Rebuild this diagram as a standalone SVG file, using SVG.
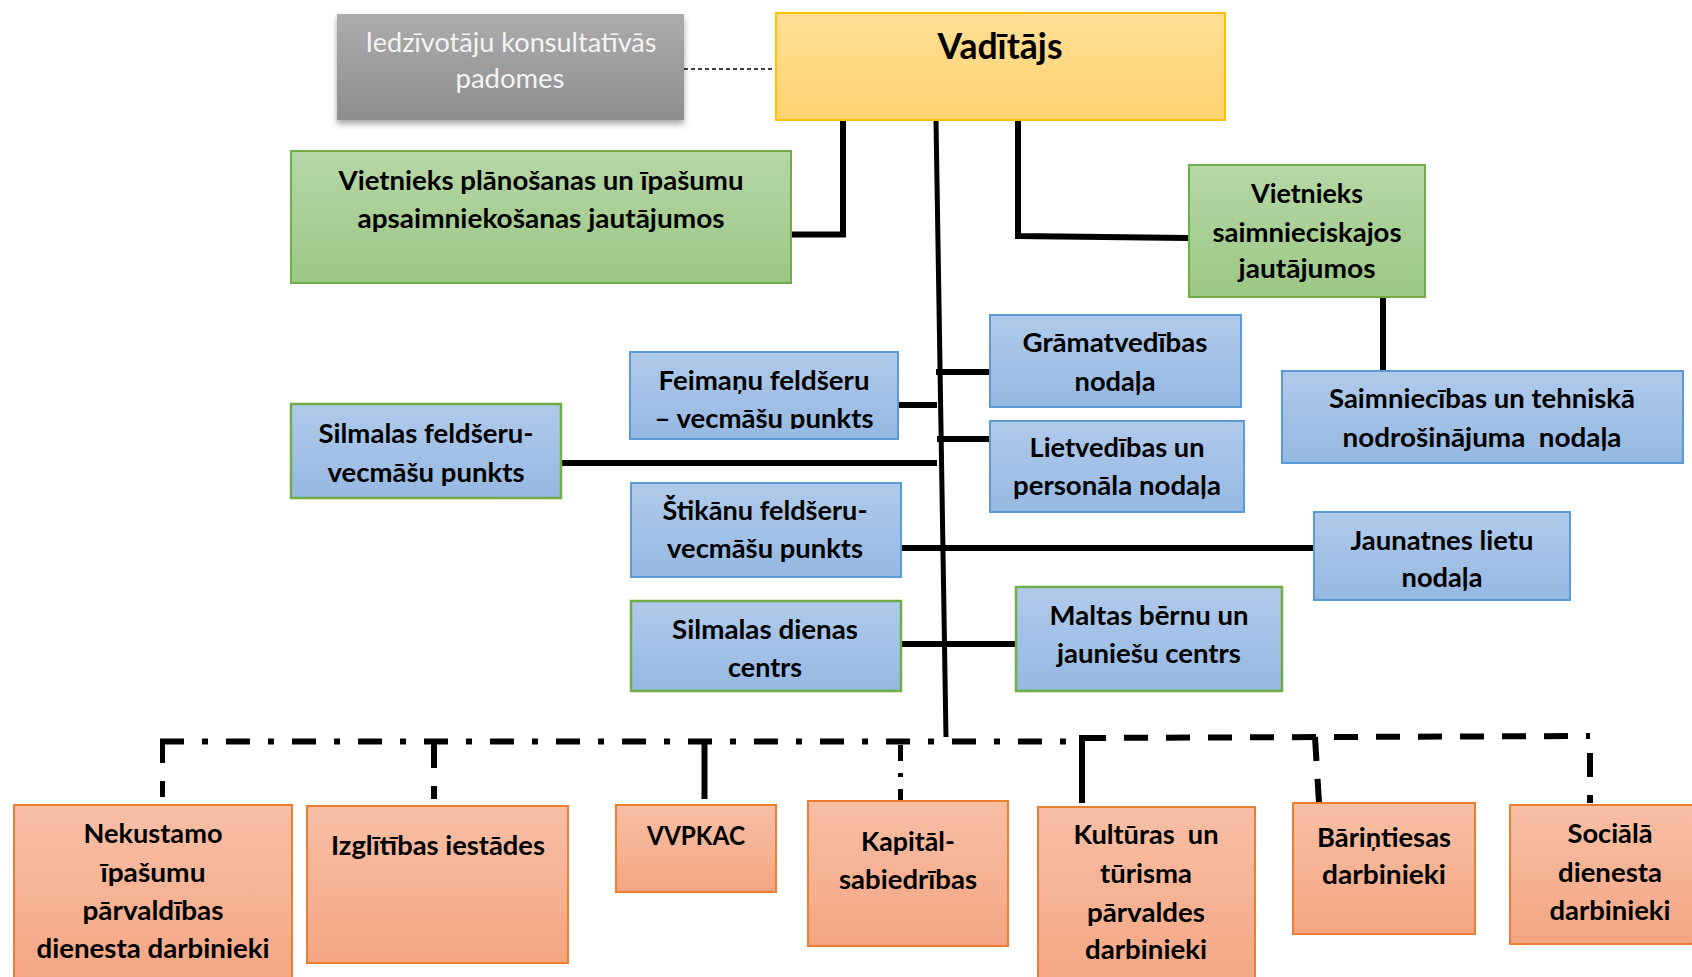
<svg xmlns="http://www.w3.org/2000/svg" width="1692" height="977" viewBox="0 0 1692 977">
<style>
.t{font-family:Lato,"Open Sans","Liberation Sans",sans-serif;font-weight:700;font-size:27px;fill:#000;text-anchor:middle}
.tg{font-family:Lato,"Open Sans","Liberation Sans",sans-serif;font-weight:400;font-size:26px;fill:#F4F4F4;text-anchor:middle}
.pre{white-space:pre}
.green{fill:url(#gGreen);stroke:#70AD47;stroke-width:2}
.blue{fill:url(#gBlue);stroke:#5B9BD5;stroke-width:2}
.bluegreen{fill:url(#gBlue);stroke:#70AD47;stroke-width:2.5}
.orange{fill:url(#gOrange);stroke:#ED7D31;stroke-width:2}
.ln{fill:none;stroke:#000;stroke-width:6;stroke-linecap:butt;stroke-linejoin:miter}
.thin{stroke-width:5}
.dash{stroke-dasharray:24 18}
.dashdot{stroke-dasharray:24 18 6 18}
</style>
<defs>
<linearGradient id="gGreen" x1="0" y1="0" x2="0" y2="1"><stop offset="0" stop-color="#B6D7A7"/><stop offset="1" stop-color="#9BC784"/></linearGradient>
<linearGradient id="gBlue" x1="0" y1="0" x2="0" y2="1"><stop offset="0" stop-color="#B0CAEA"/><stop offset="1" stop-color="#95B8E2"/></linearGradient>
<linearGradient id="gOrange" x1="0" y1="0" x2="0" y2="1"><stop offset="0" stop-color="#F7BFA5"/><stop offset="1" stop-color="#F4A582"/></linearGradient>
<linearGradient id="gYellow" x1="0" y1="0" x2="0" y2="1"><stop offset="0" stop-color="#FFDE96"/><stop offset="1" stop-color="#FFD36F"/></linearGradient>
<linearGradient id="gGray" x1="0" y1="0" x2="0" y2="1"><stop offset="0" stop-color="#ACACAC"/><stop offset="1" stop-color="#8E8E8E"/></linearGradient>
<filter id="shadow" x="-10%" y="-20%" width="120%" height="150%"><feDropShadow dx="0" dy="4" stdDeviation="3" flood-color="#000" flood-opacity="0.35"/></filter>
<clipPath id="clipFeim"><rect x="630" y="352" width="268" height="77"/></clipPath>
</defs>

<g id="connectors">
<line x1="684" y1="69" x2="776" y2="69" stroke="#000" stroke-width="1.5" stroke-dasharray="4 3"/>
<polyline class="ln" points="843,120 843,234.5 791,234.5"/>
<line class="ln thin" x1="936" y1="120" x2="946" y2="737"/>
<polyline class="ln" points="1018,120 1018,236 1189,238"/>
<line class="ln" x1="1383" y1="297" x2="1383" y2="371"/>
<line class="ln" x1="936" y1="372" x2="990" y2="372"/>
<line class="ln" x1="898" y1="405" x2="937" y2="405"/>
<line class="ln" x1="937" y1="439" x2="990" y2="439"/>
<line class="ln" x1="561" y1="463" x2="937" y2="463"/>
<line class="ln" x1="901" y1="548" x2="1314" y2="548"/>
<line class="ln" x1="901" y1="644" x2="1016" y2="644"/>
<line class="ln dashdot" x1="160" y1="741.5" x2="1067" y2="741.5"/>
<line class="ln thin dash" x1="162.5" y1="739" x2="162.5" y2="797"/>
<line class="ln dash" x1="434" y1="744" x2="434" y2="799"/>
<line class="ln" x1="704.5" y1="741" x2="704.5" y2="799"/>
<line class="ln thin" x1="900.5" y1="745" x2="900.5" y2="800" stroke-dasharray="16 12 4 12"/>
<polyline class="ln" points="1106,738 1082,738 1082,803"/>
<line class="ln dash" x1="1082" y1="738" x2="1590" y2="736"/>
<line class="ln dash" x1="1315" y1="737" x2="1319" y2="803"/>
<line class="ln dash" x1="1590" y1="736" x2="1590" y2="803" stroke-dashoffset="25"/>
</g>

<g id="n-padomes">
<rect x="337" y="14" width="347" height="106" fill="url(#gGray)" filter="url(#shadow)"/>
<text class="tg" x="511" y="52" textLength="291" lengthAdjust="spacingAndGlyphs">Iedzīvotāju konsultatīvās</text>
<text class="tg" x="510" y="88" textLength="109" lengthAdjust="spacingAndGlyphs">padomes</text>
</g>

<g id="n-vaditajs">
<rect x="776" y="13" width="449" height="107" fill="url(#gYellow)" stroke="#FFC000" stroke-width="2"/>
<text class="t" x="1000" y="59" style="font-size:36px" textLength="125" lengthAdjust="spacingAndGlyphs">Vadītājs</text>
</g>

<g id="n-vietnieks-planosanas">
<rect class="green" x="291" y="151" width="500" height="132"/>
<text class="t" x="541" y="190" textLength="405" lengthAdjust="spacingAndGlyphs">Vietnieks plānošanas un īpašumu</text>
<text class="t" x="541" y="228" textLength="367" lengthAdjust="spacingAndGlyphs">apsaimniekošanas jautājumos</text>
</g>

<g id="n-vietnieks-saimn">
<rect class="green" x="1189" y="165" width="236" height="132"/>
<text class="t" x="1307" y="203" textLength="112" lengthAdjust="spacingAndGlyphs">Vietnieks</text>
<text class="t" x="1307" y="242" textLength="189" lengthAdjust="spacingAndGlyphs">saimnieciskajos</text>
<text class="t" x="1307" y="278" textLength="137" lengthAdjust="spacingAndGlyphs">jautājumos</text>
</g>

<g id="n-gramatvedibas">
<rect class="blue" x="990" y="315" width="251" height="92"/>
<text class="t" x="1115" y="352" textLength="185" lengthAdjust="spacingAndGlyphs">Grāmatvedības</text>
<text class="t" x="1115" y="391" textLength="81" lengthAdjust="spacingAndGlyphs">nodaļa</text>
</g>

<g id="n-saimniecibas">
<rect class="blue" x="1282" y="371" width="401" height="92"/>
<text class="t" x="1482" y="408" textLength="306" lengthAdjust="spacingAndGlyphs">Saimniecības un tehniskā</text>
<text class="t pre" x="1482" y="447" textLength="279" lengthAdjust="spacingAndGlyphs">nodrošinājuma  nodaļa</text>
</g>

<g id="n-feimanu">
<rect class="blue" x="630" y="352" width="268" height="87"/>
<text class="t" x="764" y="390" textLength="211" lengthAdjust="spacingAndGlyphs">Feimaņu feldšeru</text>
<text class="t" x="764" y="428" textLength="219" lengthAdjust="spacingAndGlyphs" clip-path="url(#clipFeim)">– vecmāšu punkts</text>
</g>

<g id="n-silmalas-feldseru">
<rect class="bluegreen" x="291" y="404" width="270" height="94"/>
<text class="t" x="426" y="443" textLength="215" lengthAdjust="spacingAndGlyphs">Silmalas feldšeru-</text>
<text class="t" x="426" y="482" textLength="197" lengthAdjust="spacingAndGlyphs">vecmāšu punkts</text>
</g>

<g id="n-lietvedibas">
<rect class="blue" x="990" y="421" width="254" height="91"/>
<text class="t" x="1117" y="457" textLength="175" lengthAdjust="spacingAndGlyphs">Lietvedības un</text>
<text class="t" x="1117" y="495" textLength="208" lengthAdjust="spacingAndGlyphs">personāla nodaļa</text>
</g>

<g id="n-stikanu">
<rect class="blue" x="631" y="483" width="270" height="94"/>
<text class="t" x="765" y="520" textLength="205" lengthAdjust="spacingAndGlyphs">Štikānu feldšeru-</text>
<text class="t" x="765" y="558" textLength="196" lengthAdjust="spacingAndGlyphs">vecmāšu punkts</text>
</g>

<g id="n-jaunatnes">
<rect class="blue" x="1314" y="512" width="256" height="88"/>
<text class="t" x="1442" y="550" textLength="183" lengthAdjust="spacingAndGlyphs">Jaunatnes lietu</text>
<text class="t" x="1442" y="587" textLength="81" lengthAdjust="spacingAndGlyphs">nodaļa</text>
</g>

<g id="n-silmalas-dienas">
<rect class="bluegreen" x="631" y="601" width="270" height="90"/>
<text class="t" x="765" y="639" textLength="186" lengthAdjust="spacingAndGlyphs">Silmalas dienas</text>
<text class="t" x="765" y="677" textLength="74" lengthAdjust="spacingAndGlyphs">centrs</text>
</g>

<g id="n-maltas">
<rect class="bluegreen" x="1016" y="587" width="266" height="104"/>
<text class="t" x="1149" y="625" textLength="199" lengthAdjust="spacingAndGlyphs">Maltas bērnu un</text>
<text class="t" x="1149" y="663" textLength="184" lengthAdjust="spacingAndGlyphs">jauniešu centrs</text>
</g>

<g id="n-nekustamo">
<rect class="orange" x="14" y="805" width="278" height="185"/>
<text class="t" x="153" y="843" textLength="139" lengthAdjust="spacingAndGlyphs">Nekustamo</text>
<text class="t" x="153" y="882" textLength="105" lengthAdjust="spacingAndGlyphs">īpašumu</text>
<text class="t" x="153" y="920" textLength="141" lengthAdjust="spacingAndGlyphs">pārvaldības</text>
<text class="t" x="153" y="958" textLength="233" lengthAdjust="spacingAndGlyphs">dienesta darbinieki</text>
</g>

<g id="n-izglitibas">
<rect class="orange" x="307" y="806" width="261" height="157"/>
<text class="t" x="438" y="855" textLength="214" lengthAdjust="spacingAndGlyphs">Izglītības iestādes</text>
</g>

<g id="n-vvpkac">
<rect class="orange" x="616" y="805" width="160" height="87"/>
<text class="t" x="696" y="845" textLength="98" lengthAdjust="spacingAndGlyphs">VVPKAC</text>
</g>

<g id="n-kapital">
<rect class="orange" x="808" y="801" width="200" height="145"/>
<text class="t" x="908" y="851" textLength="94" lengthAdjust="spacingAndGlyphs">Kapitāl-</text>
<text class="t" x="908" y="889" textLength="138" lengthAdjust="spacingAndGlyphs">sabiedrības</text>
</g>

<g id="n-kulturas">
<rect class="orange" x="1038" y="807" width="217" height="185"/>
<text class="t pre" x="1146" y="844" textLength="145" lengthAdjust="spacingAndGlyphs">Kultūras  un</text>
<text class="t" x="1146" y="883" textLength="92" lengthAdjust="spacingAndGlyphs">tūrisma</text>
<text class="t" x="1146" y="922" textLength="118" lengthAdjust="spacingAndGlyphs">pārvaldes</text>
<text class="t" x="1146" y="959" textLength="122" lengthAdjust="spacingAndGlyphs">darbinieki</text>
</g>

<g id="n-barintiesas">
<rect class="orange" x="1293" y="803" width="182" height="131"/>
<text class="t" x="1384" y="847" textLength="134" lengthAdjust="spacingAndGlyphs">Bāriņtiesas</text>
<text class="t" x="1384" y="884" textLength="124" lengthAdjust="spacingAndGlyphs">darbinieki</text>
</g>

<g id="n-sociala">
<rect class="orange" x="1510" y="805" width="200" height="139"/>
<text class="t" x="1610" y="843" textLength="85" lengthAdjust="spacingAndGlyphs">Sociālā</text>
<text class="t" x="1610" y="882" textLength="104" lengthAdjust="spacingAndGlyphs">dienesta</text>
<text class="t" x="1610" y="920" textLength="121" lengthAdjust="spacingAndGlyphs">darbinieki</text>
</g>
</svg>
